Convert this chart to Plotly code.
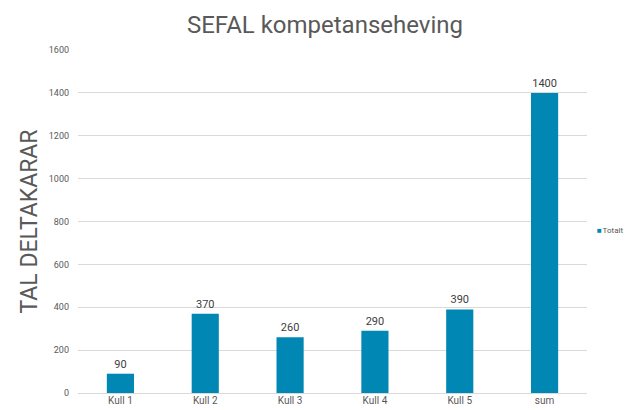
import plotly.graph_objects as go

categories = ["Kull 1", "Kull 2", "Kull 3", "Kull 4", "Kull 5", "sum"]
values = [90, 370, 260, 290, 390, 1400]
series_name = "Totalt"
y_ticks = [0, 200, 400, 600, 800, 1000, 1200, 1400, 1600]
bar_color = "#0087B3"

fig = go.Figure()
fig.add_trace(go.Bar(
    x=categories, y=values, name=series_name,
    marker=dict(color=bar_color, line=dict(width=0)),
    width=0.32,
    text=[str(v) for v in values], textposition="outside",
    textfont=dict(size=11, color="#404040"),
    cliponaxis=False,
    showlegend=False,
))

# legend as annotation (compact, like the original)
fig.add_annotation(
    xref="paper", yref="paper", x=1.015, y=0.475, xanchor="left", yanchor="middle",
    text=(f"<span style='color:{bar_color};font-size:8px'>■</span>"
          f"<span style='font-size:3px'> </span>{series_name}"),
    showarrow=False, font=dict(size=8, color="#595959"),
)

# page body adds an 8px offset, so the figure is 8px smaller
fig.update_layout(
    width=625, height=402,
    margin=dict(l=70, r=46, t=42, b=17, autoexpand=False),
    paper_bgcolor="white", plot_bgcolor="white",
    font=dict(family="Roboto, Arial, sans-serif", color="#595959"),
    title=dict(text="SEFAL kompetanseheving", x=(325 - 8) / 625, xanchor="center",
               yref="container", y=1 - 17 / 402, yanchor="middle",
               font=dict(size=24, color="#595959")),
    showlegend=False,
    xaxis=dict(showgrid=False, showline=False, ticks="",
               tickfont=dict(size=10, color="#595959")),
    yaxis=dict(range=[0, 1600], tickvals=y_ticks, showgrid=True,
               gridcolor="#D9D9D9", gridwidth=1, zeroline=True,
               zerolinecolor="#D9D9D9", zerolinewidth=1,
               tickfont=dict(size=9, color="#595959"), ticks="",
               ticklabelstandoff=8,
               title=dict(text="TAL DELTAKARAR", standoff=4,
                          font=dict(size=23, color="#595959"))),
)

fig.write_html("out.html")
